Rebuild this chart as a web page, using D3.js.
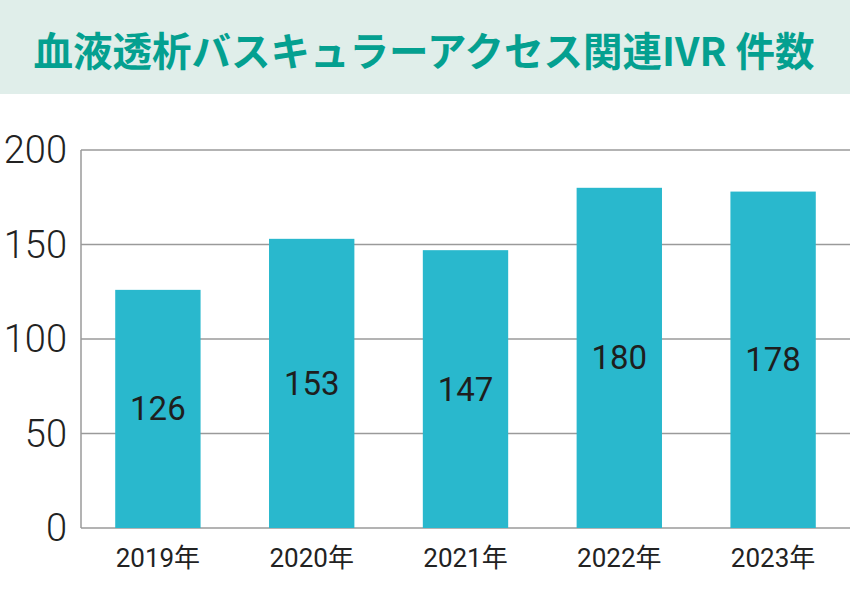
<!DOCTYPE html>
<html>
<head>
<meta charset="utf-8">
<script src="https://cdn.jsdelivr.net/npm/d3@7"></script>
<style>
  body { margin: 0; background: #fff; }
  svg { display: block; }
</style>
</head>
<body>
<svg id="chart" width="850" height="598"></svg>
<script>
// data
const years = ['2019年', '2020年', '2021年', '2022年', '2023年'];
const counts = [126, 153, 147, 180, 178];
const yTicks = [0, 50, 100, 150, 200];
const title = '血液透析バスキュラーアクセス関連IVR 件数';

const width = 850;
const height = 598;
const margin = { top: 150, right: 0, bottom: 70, left: 81 };

const svg = d3.select('#chart');

// title band
svg.append('rect')
  .attr('x', 0).attr('y', 0)
  .attr('width', width).attr('height', 94)
  .attr('fill', '#e0eeea');

svg.append('text')
  .attr('x', 424)
  .attr('y', 48)
  .attr('text-anchor', 'middle')
  .attr('dominant-baseline', 'central')
  .attr('font-family', '"Noto Sans CJK JP", sans-serif')
  .attr('font-weight', 700)
  .attr('font-size', 39.5)
  .attr('fill', '#04a090')
  .text(title);

const x = d3.scaleBand()
  .domain(years)
  .range([margin.left, width - margin.right])
  .paddingInner(0.445)
  .paddingOuter(0.2225);

const y = d3.scaleLinear()
  .domain([0, 200])
  .range([528, margin.top]);

const graph = svg.append('g');

// gridlines
graph.selectAll('.grid')
  .data(yTicks)
  .enter()
  .append('line')
  .attr('class', 'grid')
  .attr('x1', margin.left)
  .attr('x2', width)
  .attr('y1', (d) => y(d))
  .attr('y2', (d) => y(d))
  .attr('stroke', '#9a9a9a')
  .attr('stroke-width', 1.5);

// y axis line
graph.append('line')
  .attr('x1', margin.left).attr('x2', margin.left)
  .attr('y1', y(200)).attr('y2', y(0))
  .attr('stroke', '#9a9a9a')
  .attr('stroke-width', 1.5);

// y tick labels
graph.selectAll('.ytick')
  .data(yTicks)
  .enter()
  .append('text')
  .attr('class', 'ytick')
  .attr('x', 67)
  .attr('y', (d) => y(d))
  .attr('text-anchor', 'end')
  .attr('dominant-baseline', 'central')
  .attr('font-family', 'Roboto, "Noto Sans", sans-serif')
  .attr('font-weight', 300)
  .attr('font-size', 38)
  .attr('fill', '#222')
  .text((d) => d);

// bars
graph.selectAll('.bar')
  .data(counts)
  .enter()
  .append('rect')
  .attr('class', 'bar')
  .attr('x', (d, i) => x(years[i]))
  .attr('y', (d) => y(d))
  .attr('width', x.bandwidth())
  .attr('height', (d) => y(0) - y(d))
  .attr('fill', '#29b8cd');

// value labels
graph.selectAll('.value')
  .data(counts)
  .enter()
  .append('text')
  .attr('class', 'value')
  .attr('x', (d, i) => x(years[i]) + x.bandwidth() / 2)
  .attr('y', (d) => (y(d) + y(0)) / 2)
  .attr('text-anchor', 'middle')
  .attr('dominant-baseline', 'central')
  .attr('font-family', 'Roboto, "Noto Sans", sans-serif')
  .attr('font-size', 33)
  .attr('fill', '#1e1e1e')
  .text((d) => d);

// x labels
graph.selectAll('.xlabel')
  .data(years)
  .enter()
  .append('text')
  .attr('class', 'xlabel')
  .attr('x', (d) => x(d) + x.bandwidth() / 2)
  .attr('y', 558)
  .attr('text-anchor', 'middle')
  .attr('dominant-baseline', 'central')
  .attr('font-family', 'Roboto, "Noto Sans CJK JP", sans-serif')
  .attr('font-size', 26)
  .attr('fill', '#222')
  .text((d) => d);
</script>
</body>
</html>
